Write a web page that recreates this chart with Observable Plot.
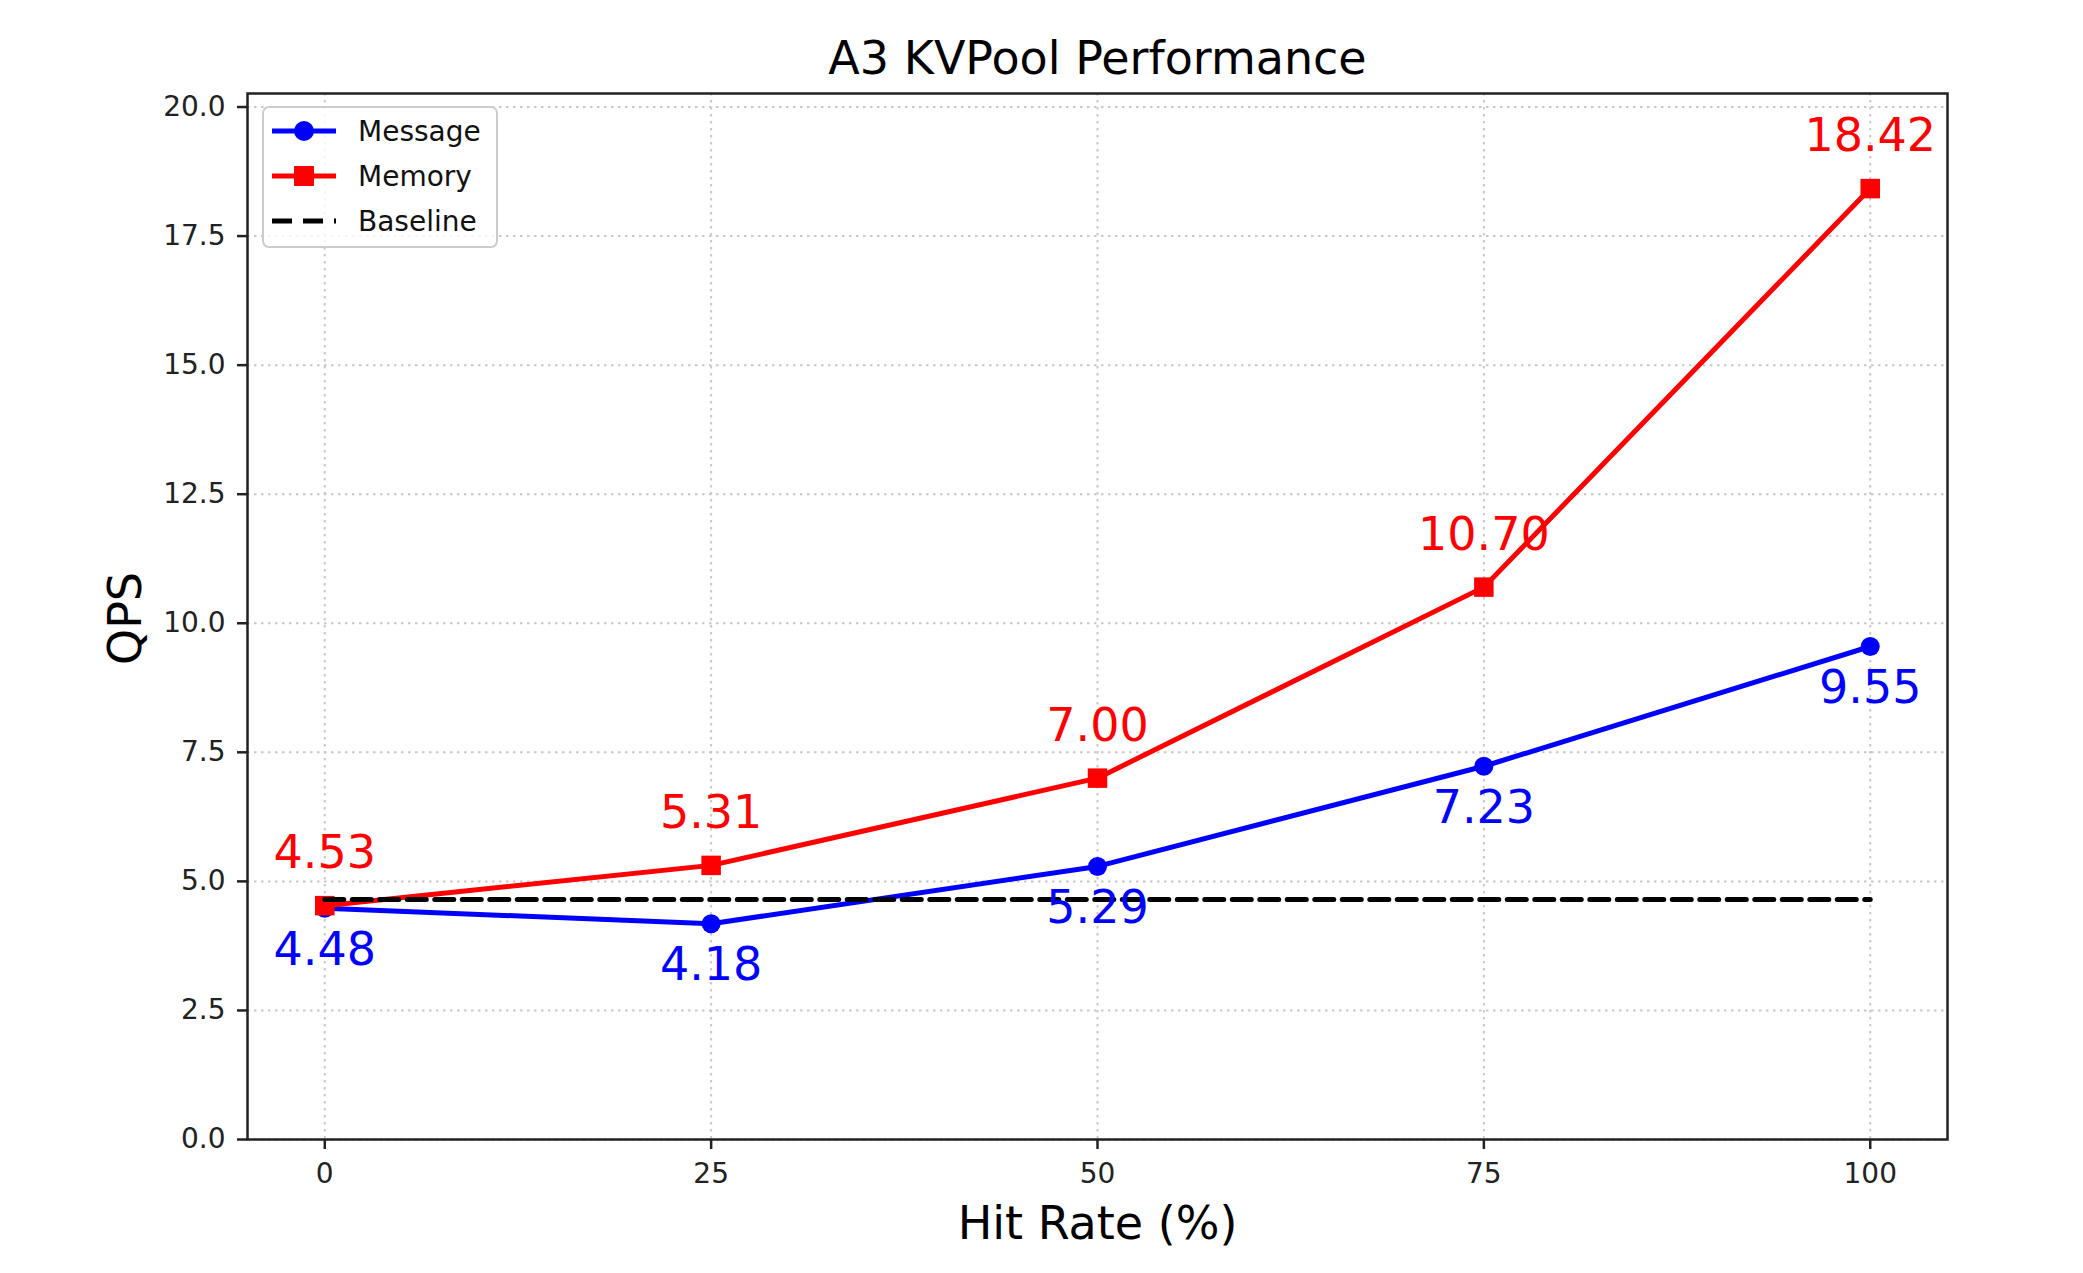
<!DOCTYPE html>
<html>
<head>
<meta charset="utf-8">
<script src="https://cdn.jsdelivr.net/npm/d3@7"></script>
<script src="https://cdn.jsdelivr.net/npm/@observablehq/plot@0.6"></script>
<style>
  html, body { margin: 0; padding: 0; background: #fff; }
  #wrap { position: relative; width: 2083px; height: 1273px; font-family: "DejaVu Sans", sans-serif; }
</style>
</head>
<body>
<div id="wrap"></div>
<script>
// ---- data ----
const hitRates = [0, 25, 50, 75, 100];
const messageQPS = [4.48, 4.18, 5.29, 7.23, 9.55];
const memoryQPS = [4.53, 5.31, 7.00, 10.70, 18.42];
const baselineQPS = 4.65;
const xTicks = [0, 25, 50, 75, 100];
const yTicks = [0, 2.5, 5, 7.5, 10, 12.5, 15, 17.5, 20];
const seriesNames = ["Message", "Memory", "Baseline"];
const seriesColors = ["#0000ff", "#ff0000", "#000000"];
const titleText = "A3 KVPool Performance";
const xLabel = "Hit Rate (%)";
const yLabel = "QPS";

const message = hitRates.map((x, i) => ({x, y: messageQPS[i]}));
const memory = hitRates.map((x, i) => ({x, y: memoryQPS[i]}));
const baseline = [hitRates[0], hitRates[hitRates.length - 1]].map(x => ({x, y: baselineQPS}));
const yMax = d3.max(memoryQPS) * 1.1;

const fmt2 = d3.format(".2f");

const chart = Plot.plot({
  width: 2083,
  height: 1273,
  marginLeft: 247,
  marginRight: 136,
  marginTop: 93,
  marginBottom: 134,
  style: {fontFamily: "DejaVu Sans, sans-serif", background: "#fff"},
  x: {domain: [-5, 105]},
  y: {domain: [0, yMax]},
  marks: [
    Plot.gridX(xTicks, {stroke: "#c8c8c8", strokeOpacity: 1, strokeWidth: 2, strokeDasharray: "2.5,4.5"}),
    Plot.gridY(yTicks, {stroke: "#c8c8c8", strokeOpacity: 1, strokeWidth: 2, strokeDasharray: "2.5,4.5"}),
    Plot.axisX(xTicks, {tickSize: 10, tickPadding: 14, fontSize: 28, color: "#222", strokeWidth: 2.5, label: null, tickFormat: d => String(d)}),
    Plot.axisY(yTicks, {tickSize: 10, tickPadding: 12, fontSize: 28, color: "#222", strokeWidth: 2.5, label: null, tickFormat: d3.format(".1f")}),
    Plot.frame({stroke: "#222", strokeWidth: 2.5}),
    Plot.line(message, {x: "x", y: "y", stroke: seriesColors[0], strokeWidth: 5}),
    Plot.dot(message, {x: "x", y: "y", r: 9.5, fill: seriesColors[0], stroke: "none"}),
    Plot.line(memory, {x: "x", y: "y", stroke: seriesColors[1], strokeWidth: 5}),
    Plot.dot(memory, {x: "x", y: "y", symbol: "square", r: 11, fill: seriesColors[1], stroke: "none"}),
    Plot.line(baseline, {x: "x", y: "y", stroke: seriesColors[2], strokeWidth: 5, strokeDasharray: "19,8.5"}),
    Plot.text(memory, {x: "x", y: "y", text: d => fmt2(d.y), dy: -52, fontSize: 46, fill: seriesColors[1]}),
    Plot.text(message, {x: "x", y: "y", text: d => fmt2(d.y), dy: 42, fontSize: 46, fill: seriesColors[0]}),
    Plot.text([titleText], {frameAnchor: "top", lineAnchor: "middle", textAnchor: "middle", dy: -34, fontSize: 46, fill: "#000"}),
    Plot.text([xLabel], {frameAnchor: "bottom", lineAnchor: "middle", textAnchor: "middle", dy: 85, fontSize: 46, fill: "#000"}),
    Plot.text([yLabel], {frameAnchor: "left", lineAnchor: "middle", textAnchor: "middle", dx: -121, dy: 2, rotate: -90, fontSize: 46, fill: "#000"})
  ]
});

const wrap = document.getElementById("wrap");
wrap.appendChild(chart);

// ---- legend ----
const lw = 234, lh = 140;
const leg = d3.create("svg").attr("width", lw + 4).attr("height", lh + 4)
  .style("position", "absolute").style("left", "262px").style("top", "106px");
leg.append("rect").attr("x", 1).attr("y", 1).attr("width", lw).attr("height", lh).attr("rx", 6)
  .attr("fill", "#fff").attr("fill-opacity", 0.8).attr("stroke", "#cccccc").attr("stroke-width", 2);
const rowY = [25, 70, 115];
seriesNames.forEach((name, i) => {
  const g = leg.append("g").attr("transform", `translate(0,${rowY[i]})`);
  g.append("line").attr("x1", 10).attr("x2", 74).attr("y1", 0).attr("y2", 0)
    .attr("stroke", seriesColors[i]).attr("stroke-width", 5)
    .attr("stroke-dasharray", i === 2 ? "20,11" : null);
  if (i === 0) g.append("circle").attr("cx", 42).attr("cy", 0).attr("r", 10).attr("fill", seriesColors[i]);
  if (i === 1) g.append("rect").attr("x", 32).attr("y", -10).attr("width", 20).attr("height", 20).attr("fill", seriesColors[i]);
  g.append("text").attr("x", 96).attr("y", 0).attr("dy", "0.35em").attr("font-size", 28)
    .attr("font-family", "DejaVu Sans, sans-serif").attr("fill", "#111").text(name);
});
wrap.appendChild(leg.node());
</script>
</body>
</html>
